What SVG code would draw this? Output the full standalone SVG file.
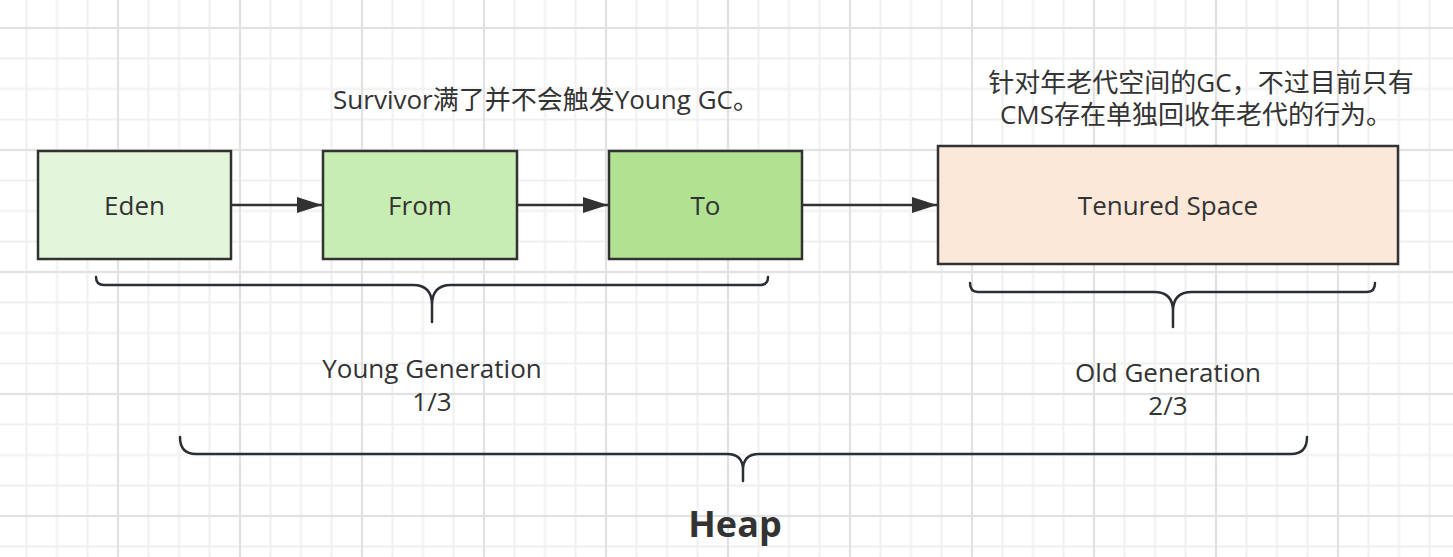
<svg xmlns="http://www.w3.org/2000/svg" width="1453" height="557" viewBox="0 0 1453 557">
<style>
.box{stroke:#323232;stroke-width:2.5}
.lbl{font-family:"Open Sans","Noto Sans CJK SC",sans-serif;font-size:26px;fill:#333;text-anchor:middle}
.note{font-family:"Open Sans","Noto Sans CJK SC",sans-serif;font-size:26px;fill:#333;text-anchor:middle}
.brace{fill:none;stroke:#2b2f33;stroke-width:2.5;stroke-linecap:round;stroke-linejoin:round}
.conn{stroke:#323232;stroke-width:2.5;fill:none}
</style>
<defs>
<pattern id="minor" width="30.5" height="30.5" patternUnits="userSpaceOnUse" x="102.75" y="12.75">
<path d="M15.25 0V30.5M0 15.25H30.5" stroke="#f0f0f0" stroke-width="2"/>
</pattern>
<pattern id="major" width="122" height="122" patternUnits="userSpaceOnUse" x="57" y="-33">
<path d="M61 0V122M0 61H122" stroke="#e2e2e2" stroke-width="2"/>
</pattern>
<marker id="arr" markerUnits="userSpaceOnUse" markerWidth="26" markerHeight="18" refX="25" refY="8" orient="auto">
<path d="M0 0L25 8L0 16Z" fill="#323232"/>
</marker>
</defs>
<rect width="1453" height="557" fill="#fff"/>
<rect width="1453" height="557" fill="url(#minor)"/>
<rect width="1453" height="557" fill="url(#major)"/>

<g id="connectors">
<line class="conn" x1="231" y1="205" x2="322" y2="205" marker-end="url(#arr)"/>
<line class="conn" x1="517" y1="205" x2="608" y2="205" marker-end="url(#arr)"/>
<line class="conn" x1="802" y1="205" x2="937" y2="205" marker-end="url(#arr)"/>
</g>

<g id="eden">
<rect class="box" x="38" y="151" width="193" height="108" fill="#e3f5da"/>
<text class="lbl" x="134.5" y="215">Eden</text>
</g>
<g id="from">
<rect class="box" x="323" y="151" width="194" height="108" fill="#c8edb3"/>
<text class="lbl" x="420" y="215">From</text>
</g>
<g id="to">
<rect class="box" x="609" y="151" width="193" height="108" fill="#b0e291"/>
<text class="lbl" x="705.5" y="215">To</text>
</g>
<g id="tenured">
<rect class="box" x="938" y="146" width="460" height="118" fill="#fbe8d9"/>
<text class="lbl" x="1168" y="215">Tenured Space</text>
</g>

<g id="survivor-note">
<text class="note" x="546" y="109">Survivor满了并不会触发Young GC。</text>
</g>
<g id="old-note">
<text class="note"><tspan x="1201" y="92">针对年老代空间的GC，不过目前只有</tspan><tspan x="1196" y="124">CMS存在单独回收年老代的行为。</tspan></text>
</g>

<g id="young-brace">
<path class="brace" d="M96 277Q96 285 104 285H413Q432 285 432 305V322M432 305Q432 285 451 285H760Q768 285 768 277"/>
<text class="note"><tspan x="432" y="378">Young Generation</tspan><tspan x="432" y="411">1/3</tspan></text>
</g>
<g id="old-brace">
<path class="brace" d="M970 283Q970 292 978 292H1154Q1173 292 1173 311V327M1173 311Q1173 292 1192 292H1367Q1375 292 1375 283"/>
<text class="note"><tspan x="1168" y="382">Old Generation</tspan><tspan x="1168" y="415">2/3</tspan></text>
</g>
<g id="heap-brace">
<path class="brace" d="M180 437Q180 454 196 454H727Q743 454 743 470V481M743 470Q743 454 759 454H1291Q1307 454 1307 437"/>
<text x="735" y="537" font-family="'Open Sans','Noto Sans',sans-serif" font-size="36" font-weight="bold" fill="#333" text-anchor="middle">Heap</text>
</g>
</svg>
